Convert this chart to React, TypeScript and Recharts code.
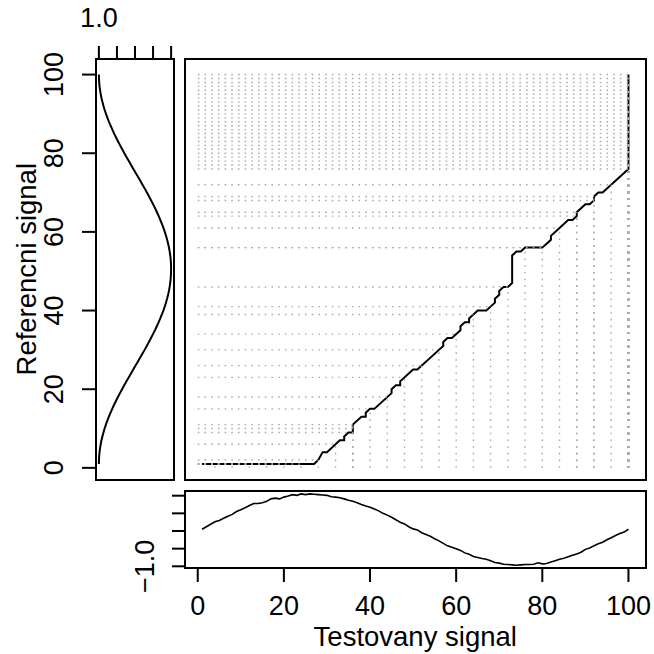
import React from 'react';
import { LineChart, Line, XAxis, YAxis, ReferenceLine, ScatterChart, Scatter } from 'recharts';

const FONT = '"Liberation Sans", Arial, Helvetica, sans-serif';

const indexTicks = [0, 20, 40, 60, 80, 100];
const signalTicks = [-1, -0.5, 0, 0.5, 1];

const referenceSignal = [
  1.0, 0.998, 0.992, 0.982, 0.968, 0.95, 0.929, 0.903, 0.874, 0.842,
  0.806, 0.766, 0.724, 0.679, 0.631, 0.581, 0.528, 0.473, 0.416, 0.358,
  0.298, 0.237, 0.175, 0.112, 0.049, -0.015, -0.078, -0.141, -0.204, -0.266,
  -0.326, -0.386, -0.443, -0.499, -0.553, -0.604, -0.653, -0.7, -0.744, -0.785,
  -0.823, -0.857, -0.888, -0.916, -0.939, -0.959, -0.975, -0.987, -0.995, -0.999,
  -1.0, -0.996, -0.988, -0.976, -0.96, -0.941, -0.917, -0.89, -0.859, -0.825,
  -0.788, -0.747, -0.703, -0.657, -0.608, -0.557, -0.503, -0.447, -0.39, -0.33,
  -0.27, -0.208, -0.146, -0.082, -0.019, 0.045, 0.108, 0.171, 0.233, 0.294,
  0.354, 0.412, 0.469, 0.524, 0.577, 0.627, 0.675, 0.721, 0.763, 0.803,
  0.839, 0.872, 0.901, 0.927, 0.949, 0.967, 0.982, 0.992, 0.998, 1.0,
];

const testSignal = [
  0.05, 0.12, 0.19, 0.26, 0.3, 0.36, 0.42, 0.47, 0.55, 0.6,
  0.66, 0.72, 0.78, 0.78, 0.8, 0.84, 0.91, 0.93, 0.91, 0.96,
  0.99, 1.03, 1.01, 1.05, 1.03, 1.05, 1.04, 1.03, 1.02, 1.01,
  0.97, 0.96, 0.94, 0.91, 0.87, 0.84, 0.8, 0.75, 0.71, 0.67,
  0.62, 0.57, 0.5, 0.45, 0.39, 0.32, 0.25, 0.2, 0.12, 0.06,
  0.03, -0.05, -0.1, -0.15, -0.22, -0.28, -0.35, -0.42, -0.46, -0.5,
  -0.55, -0.62, -0.66, -0.72, -0.75, -0.78, -0.8, -0.84, -0.89, -0.91,
  -0.94, -0.95, -0.96, -0.97, -0.96, -0.95, -0.95, -0.94, -0.9, -0.93,
  -0.92, -0.88, -0.84, -0.8, -0.77, -0.73, -0.69, -0.65, -0.6, -0.52,
  -0.48, -0.42, -0.36, -0.32, -0.25, -0.19, -0.13, -0.07, -0.03, 0.05,
];

// warping path vertices (Testovany index, Referencni index)
const pathX = [1, 27, 28, 29, 30, 33, 34, 34, 35, 36, 36, 38, 39, 39, 40, 41, 45, 45, 46, 47, 47, 50, 51, 56, 57, 57, 58, 59, 61, 61, 62, 63, 63, 65, 67, 69, 69, 70, 70, 71, 72, 73, 73, 74, 75, 76, 80, 81, 82, 82, 84, 86, 87, 88, 88, 90, 91, 92, 92, 93, 94, 100, 100];
const pathY = [1, 1, 2, 4, 4, 7, 7, 8, 9, 9, 11, 13, 13, 14, 15, 15, 19, 20, 21, 21, 22, 25, 25, 30, 31, 32, 33, 33, 35, 36, 37, 37, 38, 40, 40, 42, 43, 44, 45, 46, 46, 47, 54, 55, 55, 56, 56, 57, 58, 59, 61, 63, 63, 64, 65, 67, 67, 68, 69, 70, 70, 76, 100];

// matched index pairs drawn as dotted guide lines
const matchX = [4, 8, 12, 16, 20, 24, 28, 32, 36, 36, 36, 40, 44, 48, 52, 56, 60, 64, 68, 72, 76, 80, 84, 88, 88, 92, 92, 96,
  100, 100, 100, 100, 100, 100, 100, 100, 100, 100, 100, 100, 100, 100, 100, 100, 100, 100, 100, 100, 100, 100, 100, 100, 100];
const matchY = [1, 1, 1, 1, 1, 1, 2, 6, 9, 10, 11, 15, 18, 23, 26, 30, 34, 39, 41, 46, 56, 56, 61, 64, 65, 68, 69, 72,
  76, 77, 78, 79, 80, 81, 82, 83, 84, 85, 86, 87, 88, 89, 90, 91, 92, 93, 94, 95, 96, 97, 98, 99, 100];

const IDX_DOMAIN: [number, number] = [-2.96, 103.96];
const REF_DOMAIN: [number, number] = [-1.08, 1.08];
const TEST_DOMAIN: [number, number] = [-1.048, 1.133];

const pathData = pathX.map((x, k) => ({ x, y: pathY[k] }));
const refData = referenceSignal.map((r, k) => ({ r, i: k + 1 }));
const testData = testSignal.map((v, k) => ({ i: k + 1, v }));

const TICK_FS = 27;
const TITLE_FS = 27.5;
const tickLine = { stroke: '#000', strokeWidth: 2 };
const MATCH_COLOR = '#aaaaaa';
const MATCH_DASH = '1.6 5.1';

const noShape = () => <g />;

const LeftYTick = (props: any) => (
  <text transform={`translate(63, ${props.y}) rotate(-90)`} textAnchor="middle" fontSize={TICK_FS} fontFamily={FONT} fill="#000">
    {props.payload.value}
  </text>
);

const TopXTick = (props: any) =>
  props.payload.value === 1 ? (
    <text x={props.x} y={27} textAnchor="middle" fontSize={TICK_FS} fontFamily={FONT} fill="#000">1.0</text>
  ) : <g />;

const BottomYTick = (props: any) =>
  props.payload.value === -1 ? (
    <text transform={`translate(154, ${props.y}) rotate(-90)`} textAnchor="middle" fontSize={TICK_FS} fontFamily={FONT} fill="#000">
      {'\u22121.0'}
    </text>
  ) : <g />;

const BottomXTick = (props: any) => (
  <text x={props.x} y={124} textAnchor="middle" fontSize={TICK_FS} fontFamily={FONT} fill="#000">
    {props.payload.value}
  </text>
);

const YTitle = (props: any) => {
  const vb = props.viewBox || { y: 59, height: 420.5 };
  return (
    <text transform={`translate(36, ${vb.y + vb.height / 2}) rotate(-90)`} textAnchor="middle" fontSize={TITLE_FS} fontFamily={FONT} fill="#000">
      Referencni signal
    </text>
  );
};

const XTitle = () => (
  <text x={415.25} y={155} textAnchor="middle" fontSize={TITLE_FS} fontFamily={FONT} fill="#000">
    Testovany signal
  </text>
);

const boxStyle = (left: number, top: number, width: number, height: number): React.CSSProperties => ({
  position: 'absolute', left, top, width, height, border: '2px solid #000', boxSizing: 'border-box', pointerEvents: 'none',
});

export default function App() {
  return (
    <div style={{ position: 'absolute', left: 0, top: 0, width: 654, height: 654, background: '#fff', overflow: 'hidden' }}>
      {/* left panel: reference signal */}
      <div style={{ position: 'absolute', left: 0, top: 0 }}>
        <ScatterChart width={174} height={480} margin={{ top: 0, right: 0, bottom: 0.5, left: 0 }}>
          <XAxis xAxisId={0} type="number" dataKey="r" orientation="top" reversed domain={REF_DOMAIN} allowDataOverflow
            ticks={signalTicks} interval={0} height={59} tickSize={13} axisLine={false} tickLine={tickLine} tick={<TopXTick />} />
          <YAxis yAxisId={0} type="number" dataKey="i" domain={IDX_DOMAIN} allowDataOverflow ticks={indexTicks} interval={0}
            width={96} tickSize={14} axisLine={false} tickLine={tickLine} tick={<LeftYTick />} label={{ content: YTitle }} />
          <Scatter data={refData} line={{ stroke: '#000', strokeWidth: 2 }} lineType="joint" shape={noShape} isAnimationActive={false} />
        </ScatterChart>
      </div>

      {/* main panel: warping path */}
      <div style={{ position: 'absolute', left: 185, top: 59 }}>
        <LineChart width={460.5} height={420.5} data={pathData} margin={{ top: 0, right: 0, bottom: 0, left: 0 }}>
          <XAxis type="number" dataKey="x" domain={IDX_DOMAIN} allowDataOverflow hide />
          <YAxis type="number" domain={IDX_DOMAIN} allowDataOverflow hide />
          <Line type="linear" dataKey="y" stroke="#000" strokeWidth={2} dot={false} isAnimationActive={false} />
          {matchX.map((mx, k) => (
            <ReferenceLine key={`h${k}`} segment={[{ x: 0, y: matchY[k] }, { x: mx, y: matchY[k] }]}
              stroke={MATCH_COLOR} strokeWidth={1.4} strokeDasharray={MATCH_DASH} ifOverflow="visible" />
          ))}
          {matchX.map((mx, k) => (
            <ReferenceLine key={`v${k}`} segment={[{ x: mx, y: 0 }, { x: mx, y: matchY[k] }]}
              stroke={MATCH_COLOR} strokeWidth={1.4} strokeDasharray={MATCH_DASH} ifOverflow="visible" />
          ))}
        </LineChart>
      </div>

      {/* bottom panel: test signal */}
      <div style={{ position: 'absolute', left: 0, top: 491 }}>
        <LineChart width={654} height={163} data={testData} margin={{ top: 0, right: 8.5, bottom: 0, left: 0 }}>
          <XAxis type="number" dataKey="i" domain={IDX_DOMAIN} allowDataOverflow ticks={indexTicks} interval={0}
            height={86} tickSize={14} axisLine={false} tickLine={tickLine} tick={<BottomXTick />} label={{ content: XTitle }} />
          <YAxis type="number" domain={TEST_DOMAIN} allowDataOverflow ticks={signalTicks} interval={0}
            width={185} tickSize={13} axisLine={false} tickLine={tickLine} tick={<BottomYTick />} />
          <Line type="linear" dataKey="v" stroke="#000" strokeWidth={1.6} dot={false} isAnimationActive={false} />
        </LineChart>
      </div>

      <div style={boxStyle(95, 58, 80, 422.5)} />
      <div style={boxStyle(184, 58, 462.5, 422.5)} />
      <div style={boxStyle(184, 490, 462.5, 79)} />
    </div>
  );
}
